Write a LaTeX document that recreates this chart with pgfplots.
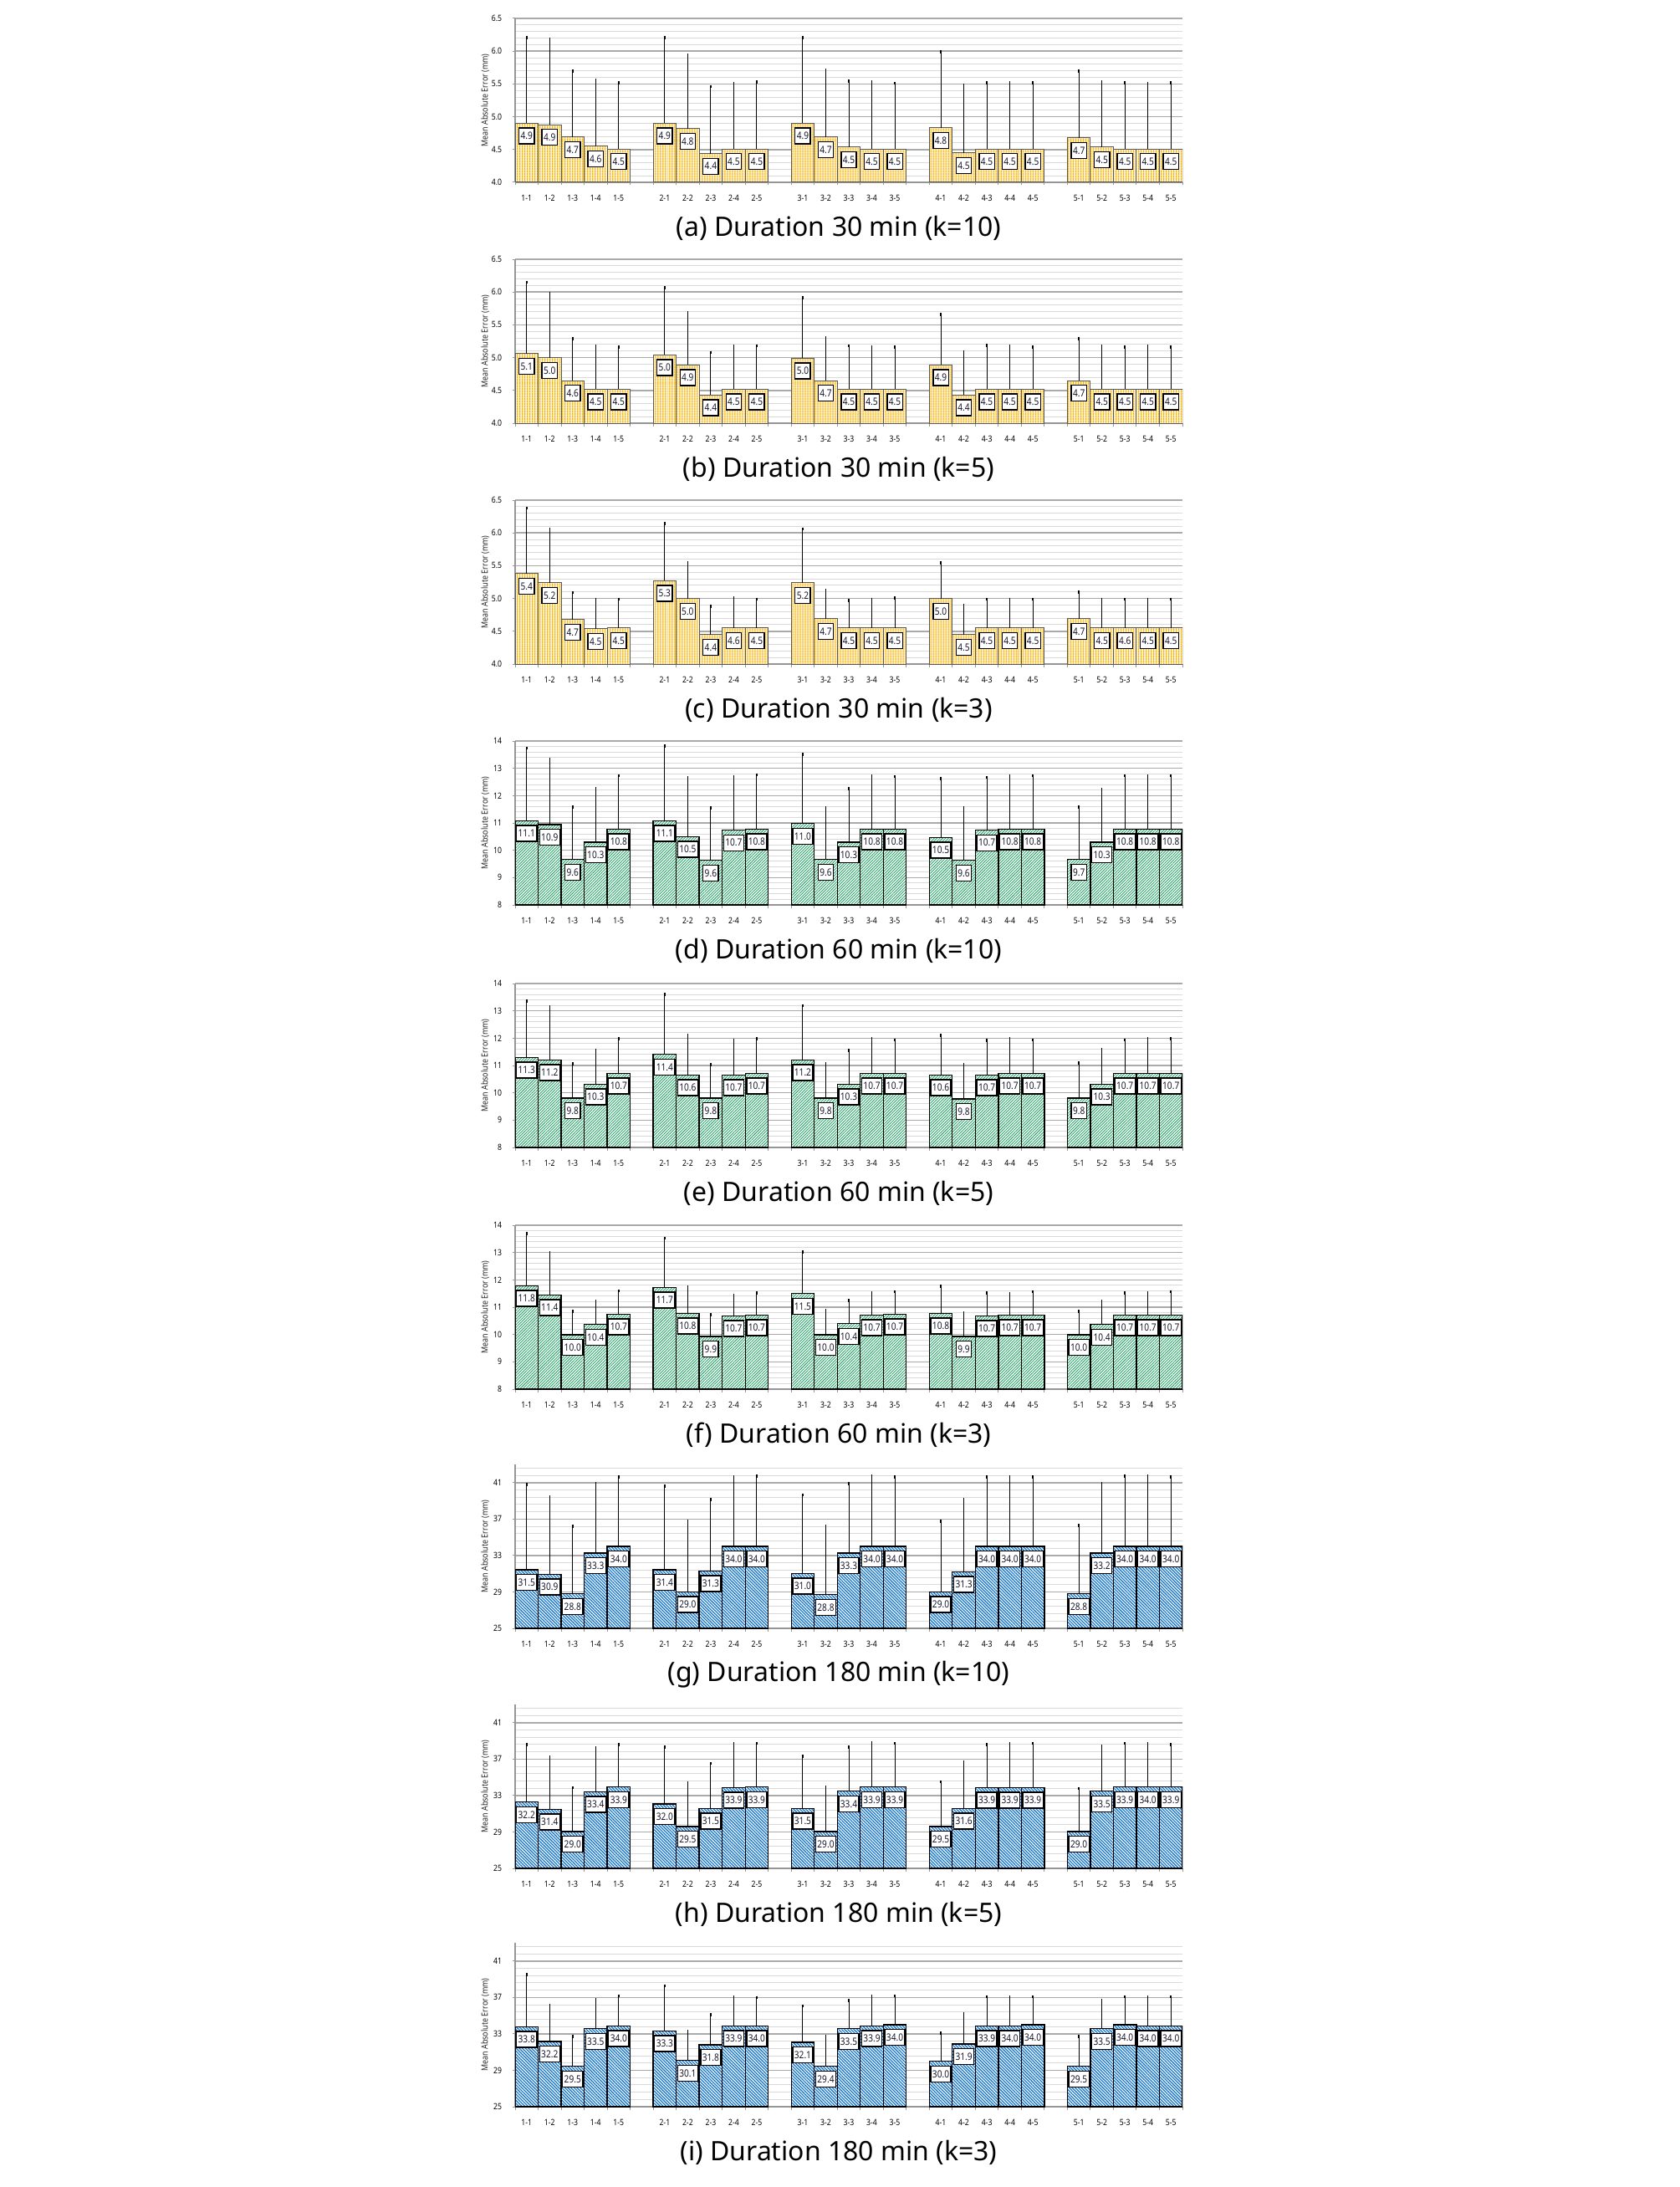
\documentclass[border=0pt]{standalone}
\usepackage{fontspec}
\setmainfont{Noto Sans}
\newfontfamily\chartfont[FakeStretch=0.85]{Noto Sans}
\usepackage{pgfplots}
\pgfplotsset{compat=1.18}
\usepackage{pgfplotstable}
\usetikzlibrary{patterns.meta}

\definecolor{yel}{RGB}{245,178,0}
\definecolor{grn}{RGB}{40,165,105}
\definecolor{blu}{RGB}{25,120,205}
\definecolor{gridmaj}{RGB}{170,170,170}
\definecolor{gridmin}{RGB}{218,218,218}
\definecolor{axgray}{RGB}{150,150,150}
\definecolor{labtext}{RGB}{25,25,45}

\newcommand\tickfont{\chartfont\fontsize{2.9pt}{3pt}\selectfont}
\newcommand\labfont{\chartfont\bfseries\fontsize{3.4pt}{3.5pt}\selectfont}
\newcommand\capfont{\fontsize{9.1pt}{11pt}\selectfont}

% columns: position, mean, error (upward), printed label
\pgfplotstableread{
x y err lab
0 4.90 1.31 4.9
1 4.88 1.31 4.9
2 4.69 1.01 4.7
3 4.55 1.01 4.6
4 4.51 1.01 4.5
6 4.90 1.31 4.9
7 4.82 1.12 4.8
8 4.44 1.02 4.4
9 4.51 1.00 4.5
10 4.51 1.02 4.5
12 4.90 1.31 4.9
13 4.69 1.02 4.7
14 4.54 1.00 4.5
15 4.51 1.02 4.5
16 4.51 1.00 4.5
18 4.83 1.16 4.8
19 4.45 1.03 4.5
20 4.51 1.01 4.5
21 4.51 1.01 4.5
22 4.51 1.01 4.5
24 4.68 1.02 4.7
25 4.54 0.99 4.5
26 4.51 1.01 4.5
27 4.51 1.00 4.5
28 4.51 1.01 4.5
}\tA
\pgfplotstableread{
x y err lab
0 5.06 1.09 5.1
1 5.00 0.98 5.0
2 4.65 0.64 4.6
3 4.52 0.66 4.5
4 4.52 0.64 4.5
6 5.04 1.03 5.0
7 4.89 0.80 4.9
8 4.43 0.65 4.4
9 4.52 0.66 4.5
10 4.52 0.66 4.5
12 4.99 0.92 5.0
13 4.65 0.65 4.7
14 4.52 0.66 4.5
15 4.52 0.64 4.5
16 4.52 0.64 4.5
18 4.89 0.77 4.9
19 4.43 0.66 4.4
20 4.52 0.67 4.5
21 4.52 0.66 4.5
22 4.52 0.64 4.5
24 4.65 0.64 4.7
25 4.52 0.66 4.5
26 4.52 0.64 4.5
27 4.52 0.66 4.5
28 4.52 0.64 4.5
}\tB
\pgfplotstableread{
x y err lab
0 5.38 1.00 5.4
1 5.24 0.82 5.2
2 4.68 0.41 4.7
3 4.54 0.44 4.5
4 4.55 0.44 4.5
6 5.27 0.87 5.3
7 5.00 0.54 5.0
8 4.45 0.43 4.4
9 4.55 0.46 4.6
10 4.55 0.44 4.5
12 5.24 0.82 5.2
13 4.69 0.43 4.7
14 4.55 0.42 4.5
15 4.55 0.44 4.5
16 4.55 0.46 4.5
18 5.00 0.54 5.0
19 4.45 0.45 4.5
20 4.55 0.44 4.5
21 4.55 0.44 4.5
22 4.55 0.44 4.5
24 4.69 0.41 4.7
25 4.55 0.43 4.5
26 4.55 0.44 4.6
27 4.55 0.44 4.5
28 4.55 0.44 4.5
}\tC
\pgfplotstableread{
x y err lab
0 11.08 2.66 11.1
1 10.94 2.40 10.9
2 9.66 1.92 9.6
3 10.30 1.95 10.3
4 10.78 1.95 10.8
6 11.08 2.74 11.1
7 10.50 2.17 10.5
8 9.63 1.92 9.6
9 10.74 1.96 10.7
10 10.78 1.98 10.8
12 10.98 2.53 11.0
13 9.66 1.89 9.6
14 10.30 1.95 10.3
15 10.78 1.95 10.8
16 10.78 1.92 10.8
18 10.47 2.16 10.5
19 9.63 1.92 9.6
20 10.74 1.93 10.7
21 10.78 1.95 10.8
22 10.78 1.95 10.8
24 9.66 1.92 9.7
25 10.30 1.92 10.3
26 10.78 1.95 10.8
27 10.78 1.95 10.8
28 10.78 1.95 10.8
}\tD
\pgfplotstableread{
x y err lab
0 11.30 2.06 11.3
1 11.20 1.94 11.2
2 9.81 1.26 9.8
3 10.32 1.24 10.3
4 10.72 1.26 10.7
6 11.41 2.19 11.4
7 10.65 1.45 10.6
8 9.81 1.22 9.8
9 10.65 1.26 10.7
10 10.72 1.26 10.7
12 11.20 1.99 11.2
13 9.81 1.26 9.8
14 10.32 1.24 10.3
15 10.72 1.26 10.7
16 10.72 1.22 10.7
18 10.65 1.45 10.6
19 9.78 1.25 9.8
20 10.65 1.26 10.7
21 10.72 1.26 10.7
22 10.72 1.22 10.7
24 9.81 1.29 9.8
25 10.32 1.27 10.3
26 10.72 1.22 10.7
27 10.72 1.26 10.7
28 10.72 1.26 10.7
}\tE
\pgfplotstableread{
x y err lab
0 11.79 1.91 11.8
1 11.45 1.55 11.4
2 9.99 0.86 10.0
3 10.37 0.85 10.4
4 10.75 0.85 10.7
6 11.73 1.79 11.7
7 10.78 0.95 10.8
8 9.93 0.79 9.9
9 10.68 0.77 10.7
10 10.72 0.81 10.7
12 11.50 1.52 11.5
13 9.99 0.89 10.0
14 10.40 0.85 10.4
15 10.72 0.81 10.7
16 10.75 0.82 10.7
18 10.78 0.98 10.8
19 9.93 0.85 9.9
20 10.68 0.85 10.7
21 10.72 0.78 10.7
22 10.72 0.85 10.7
24 9.99 0.86 10.0
25 10.37 0.85 10.4
26 10.72 0.81 10.7
27 10.72 0.81 10.7
28 10.72 0.85 10.7
}\tF
\pgfplotstableread{
x y err lab
0 31.44 9.34 31.5
1 30.93 8.54 30.9
2 28.80 7.42 28.8
3 33.27 7.63 33.3
4 34.00 7.60 34.0
6 31.44 9.15 31.4
7 29.01 7.75 29.0
8 31.32 7.84 31.3
9 34.00 7.60 34.0
10 34.00 7.69 34.0
12 31.02 8.63 31.0
13 28.71 7.51 28.8
14 33.27 7.63 33.3
15 34.00 7.69 34.0
16 34.00 7.60 34.0
18 29.01 7.75 29.0
19 31.23 7.93 31.3
20 34.00 7.60 34.0
21 34.00 7.60 34.0
22 34.00 7.60 34.0
24 28.80 7.51 28.8
25 33.27 7.63 33.2
26 34.00 7.69 34.0
27 34.00 7.69 34.0
28 34.00 7.60 34.0
}\tG
\pgfplotstableread{
x y err lab
0 32.28 6.32 32.2
1 31.50 5.71 31.4
2 29.05 4.83 29.0
3 33.43 4.77 33.4
4 33.93 4.67 33.9
6 32.07 6.25 32.0
7 29.59 4.81 29.5
8 31.59 4.92 31.5
9 33.88 4.84 33.9
10 33.93 4.79 33.9
12 31.59 5.71 31.5
13 29.05 4.92 29.0
14 33.49 4.83 33.4
15 33.93 4.91 33.9
16 33.93 4.79 33.9
18 29.59 4.90 29.5
19 31.59 5.10 31.6
20 33.88 4.72 33.9
21 33.88 4.84 33.9
22 33.88 4.84 33.9
24 29.05 4.74 29.0
25 33.49 4.92 33.5
26 33.93 4.79 33.9
27 33.95 4.77 34.0
28 33.93 4.67 33.9
}\tH
\pgfplotstableread{
x y err lab
0 33.80 5.72 33.8
1 32.17 3.99 32.2
2 29.45 3.29 29.5
3 33.56 3.18 33.5
4 33.89 3.27 34.0
6 33.32 4.96 33.3
7 30.08 3.24 30.1
8 31.81 3.32 31.8
9 33.89 3.18 33.9
10 33.89 3.09 34.0
12 32.08 3.99 32.1
13 29.45 3.29 29.4
14 33.56 3.09 33.5
15 33.89 3.27 33.9
16 34.01 3.15 34.0
18 29.99 3.09 30.0
19 31.90 3.35 31.9
20 33.89 3.18 33.9
21 33.89 3.18 34.0
22 34.01 3.06 34.0
24 29.45 3.29 29.5
25 33.56 3.09 33.5
26 34.01 3.06 34.0
27 33.89 3.18 34.0
28 33.89 3.18 34.0
}\tI

\pgfplotsset{
  panel/.style={
    scale only axis, width=79.8mm, height=19.6mm, anchor=north west,
    xmin=-0.5, xmax=28.5,
    axis x line*=bottom, axis y line*=left,
    axis line style={draw=axgray, line width=0.12mm},
    tick align=outside,
    xtick={0,1,2,3,4,6,7,8,9,10,12,13,14,15,16,18,19,20,21,22,24,25,26,27,28},
    xticklabels={1-1,1-2,1-3,1-4,1-5,2-1,2-2,2-3,2-4,2-5,3-1,3-2,3-3,3-4,3-5,4-1,4-2,4-3,4-4,4-5,5-1,5-2,5-3,5-4,5-5},
    minor xtick={-0.5,0.5,...,28.5},
    major x tick style={draw=none},
    minor x tick style={draw=axgray, line width=0.1mm},
    minor y tick style={draw=none},
    major y tick style={draw=axgray, line width=0.1mm},
    major tick length=0.35mm, minor tick length=0.35mm,
    ymajorgrids, yminorgrids,
    major grid style={draw=gridmaj, line width=0.16mm},
    minor grid style={draw=gridmin, line width=0.1mm},
    tick label style={font=\tickfont, text=black},
    xticklabel style={yshift=0.1mm},
    /pgf/number format/assume math mode=true,
    ylabel={Mean Absolute Error (mm)},
    every axis y label/.style={at={(axis description cs:-0.045,0.5)}, rotate=90,
      anchor=center, font=\chartfont\fontsize{3pt}{3pt}\selectfont, text=black!85},
    ybar, bar width=1,
    nodes near coords, point meta=explicit symbolic,
    every node near coord/.append style={anchor=north, yshift=-0.5mm, fill=white,
      draw=black, line width=0.14mm, inner xsep=0.2mm, inner ysep=0mm,
      minimum height=1.9mm, font=\labfont, text=labtext},
  },
  rA/.style={ymin=4, ymax=6.5, ytick={4,4.5,...,6.5}, minor ytick={4.1,4.2,...,6.45},
    yticklabel style={/pgf/number format/fixed, /pgf/number format/fixed zerofill,
      /pgf/number format/precision=1}},
  rB/.style={ymin=8, ymax=14, ytick={8,...,14}, minor ytick={8.2,8.4,...,13.9}},
  rC/.style={ymin=25, ymax=43, ytick={25,29,...,41}, minor ytick={25.8,26.6,...,42.7}},
  eb/.style={error bars/y dir=plus, error bars/y explicit,
    error bars/error bar style={draw=black, line width=0.1mm},
    error bars/error mark options={draw=black, line width=0.15mm, mark size=0.18mm}},
  yelbar/.style={eb, draw=black!65, line width=0.1mm, preaction={fill=white},
    pattern={Lines[angle=90,distance=0.33mm,line width=0.16mm]}, pattern color=yel},
  grnbar/.style={eb, draw=black, line width=0.13mm, preaction={fill=white},
    pattern={Lines[angle=45,distance=0.24mm,line width=0.09mm]}, pattern color=grn},
  blubar/.style={eb, draw=black, line width=0.13mm, preaction={fill=white},
    pattern={Lines[angle=-45,distance=0.26mm,line width=0.13mm]}, pattern color=blu},
}

\begin{document}
\begin{tikzpicture}
\useasboundingbox (0,0) rectangle (200.8mm,-261.5mm);

\begin{axis}[panel, rA, at={(61.6mm,-2.2mm)}]
\addplot[yelbar] table[x=x, y=y, y error=err, meta=lab] {\tA};
\end{axis}
\node[font=\capfont] at (100.3mm,-27.3mm) {(a) Duration 30 min (k=10)};

\begin{axis}[panel, rA, at={(61.6mm,-31.0mm)}]
\addplot[yelbar] table[x=x, y=y, y error=err, meta=lab] {\tB};
\end{axis}
\node[font=\capfont] at (100.3mm,-56.1mm) {(b) Duration 30 min (k=5)};

\begin{axis}[panel, rA, at={(61.6mm,-59.8mm)}]
\addplot[yelbar] table[x=x, y=y, y error=err, meta=lab] {\tC};
\end{axis}
\node[font=\capfont] at (100.3mm,-84.9mm) {(c) Duration 30 min (k=3)};

\begin{axis}[panel, rB, at={(61.6mm,-88.6mm)}]
\addplot[grnbar] table[x=x, y=y, y error=err, meta=lab] {\tD};
\end{axis}
\node[font=\capfont] at (100.3mm,-113.7mm) {(d) Duration 60 min (k=10)};

\begin{axis}[panel, rB, at={(61.6mm,-117.6mm)}]
\addplot[grnbar] table[x=x, y=y, y error=err, meta=lab] {\tE};
\end{axis}
\node[font=\capfont] at (100.3mm,-142.7mm) {(e) Duration 60 min (k=5)};

\begin{axis}[panel, rB, at={(61.6mm,-146.5mm)}]
\addplot[grnbar] table[x=x, y=y, y error=err, meta=lab] {\tF};
\end{axis}
\node[font=\capfont] at (100.3mm,-171.6mm) {(f) Duration 60 min (k=3)};

\begin{axis}[panel, rC, at={(61.6mm,-175.1mm)}]
\addplot[blubar] table[x=x, y=y, y error=err, meta=lab] {\tG};
\end{axis}
\node[font=\capfont] at (100.3mm,-200.2mm) {(g) Duration 180 min (k=10)};

\begin{axis}[panel, rC, at={(61.6mm,-203.8mm)}]
\addplot[blubar] table[x=x, y=y, y error=err, meta=lab] {\tH};
\end{axis}
\node[font=\capfont] at (100.3mm,-228.9mm) {(h) Duration 180 min (k=5)};

\begin{axis}[panel, rC, at={(61.6mm,-232.3mm)}]
\addplot[blubar] table[x=x, y=y, y error=err, meta=lab] {\tI};
\end{axis}
\node[font=\capfont] at (100.3mm,-257.4mm) {(i) Duration 180 min (k=3)};

\end{tikzpicture}
\end{document}
